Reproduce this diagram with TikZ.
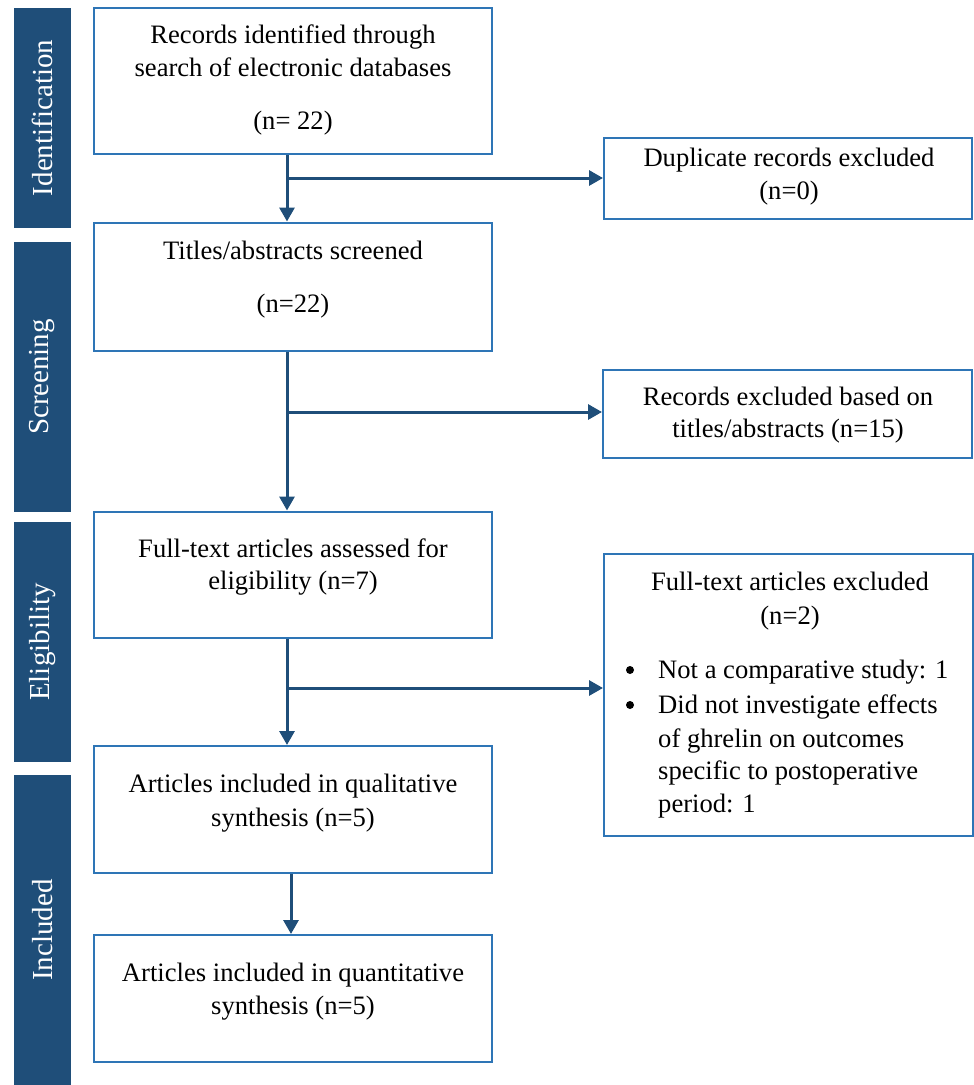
\documentclass[tikz,border=0pt]{standalone}
\usepackage{fontspec}
\setmainfont{Liberation Serif}
\usetikzlibrary{arrows.meta}
\definecolor{barblue}{HTML}{1F4E79}
\definecolor{boxblue}{HTML}{2E75B6}
\begin{document}
\begin{tikzpicture}[x=1pt,y=-1pt,
  box/.style={draw=boxblue, line width=2pt, fill=white, rectangle, inner sep=0pt},
  bar/.style={fill=barblue, draw=none, rectangle, inner sep=0pt},
  barlabel/.style={rotate=90, text=white, font=\fontsize{29}{34}\selectfont, inner sep=0pt},
  txt/.style={anchor=base, inner sep=0pt, font=\fontsize{26.6}{32}\selectfont},
  ltxt/.style={anchor=base west, inner sep=0pt, font=\fontsize{26.6}{32}\selectfont},
  dot/.style={circle, fill=black, inner sep=0pt, minimum size=8pt},
  arr/.style={draw=barblue, line width=3pt, -{Triangle[length=14pt,width=15pt]}}]
\useasboundingbox (0,0) rectangle (974,1085);

% side bars
\node[bar, minimum width=57pt, minimum height=220pt] (s1) at (42.5,118) {};
\node[barlabel] (s1t) at (s1.center) {Identification};
\node[bar, minimum width=57pt, minimum height=270pt] (s2) at (42.5,377) {};
\node[barlabel] (s2t) at (s2.center) {Screening};
\node[bar, minimum width=57pt, minimum height=240pt] (s3) at (42.5,642) {};
\node[barlabel] (s3t) at (s3.center) {Eligibility};
\node[bar, minimum width=57pt, minimum height=310pt] (s4) at (42.5,930) {};
\node[barlabel] (s4t) at (s4.center) {Included};

% main boxes
\node[box, minimum width=398pt, minimum height=146pt] (b1) at (293,81) {};
\node[box, minimum width=398pt, minimum height=128pt] (b2) at (293,286.5) {};
\node[box, minimum width=398pt, minimum height=126pt] (b3) at (293,574.5) {};
\node[box, minimum width=398pt, minimum height=127pt] (b4) at (293,809.5) {};
\node[box, minimum width=398pt, minimum height=127pt] (b5) at (293,998.5) {};

% right boxes
\node[box, minimum width=368pt, minimum height=81pt] (d1) at (788,178.5) {};
\node[box, minimum width=369pt, minimum height=88pt] (d2) at (787.5,413.5) {};
\node[box, minimum width=369pt, minimum height=282pt] (d3) at (788.5,695) {};

% texts
\node[txt] (t1a) at (293,43) {Records identified through};
\node[txt] (t1b) at (293,76) {search of electronic databases};
\node[txt] (t1c) at (293,129) {(n= 22)};
\node[txt] (t2a) at (293,259) {Titles/abstracts screened};
\node[txt] (t2b) at (293,312) {(n=22)};
\node[txt] (t3a) at (293,557) {Full-text articles assessed for};
\node[txt] (t3b) at (293,589) {eligibility (n=7)};
\node[txt] (t4a) at (293,792) {Articles included in qualitative};
\node[txt] (t4b) at (293,826) {synthesis (n=5)};
\node[txt] (t5a) at (293,981) {Articles included in quantitative};
\node[txt] (t5b) at (293,1014) {synthesis (n=5)};

\node[txt] (u1a) at (789,166) {Duplicate records excluded};
\node[txt] (u1b) at (789,199) {(n=0)};
\node[txt] (u2a) at (788,405) {Records excluded based on};
\node[txt] (u2b) at (788,437) {titles/abstracts (n=15)};
\node[txt] (u3a) at (790,590) {Full-text articles excluded};
\node[txt] (u3b) at (790,624) {(n=2)};
\node[dot] (bl1) at (630,670) {};
\node[ltxt] (u3c) at (658,678) {Not a comparative study: 1};
\node[dot] (bl2) at (630,705) {};
\node[ltxt] (u3d) at (658,713) {Did not investigate effects};
\node[ltxt] (u3e) at (658,747) {of ghrelin on outcomes};
\node[ltxt] (u3f) at (658,779) {specific to postoperative};
\node[ltxt] (u3g) at (658,812) {period: 1};

% connectors
\coordinate (j1) at (287,178);
\coordinate (j2) at (287,412);
\coordinate (j3) at (287,688);
\coordinate (j4) at (291,900);
\draw[arr] (j1 |- b1.south) -- (j1 |- b2.north);
\draw[arr] (j1) -- (j1 -| d1.west);
\draw[arr] (j2 |- b2.south) -- (j2 |- b3.north);
\draw[arr] (j2) -- (j2 -| d2.west);
\draw[arr] (j3 |- b3.south) -- (j3 |- b4.north);
\draw[arr] (j3) -- (j3 -| d3.west);
\draw[arr] (j4 |- b4.south) -- (j4 |- b5.north);
\end{tikzpicture}
\end{document}
